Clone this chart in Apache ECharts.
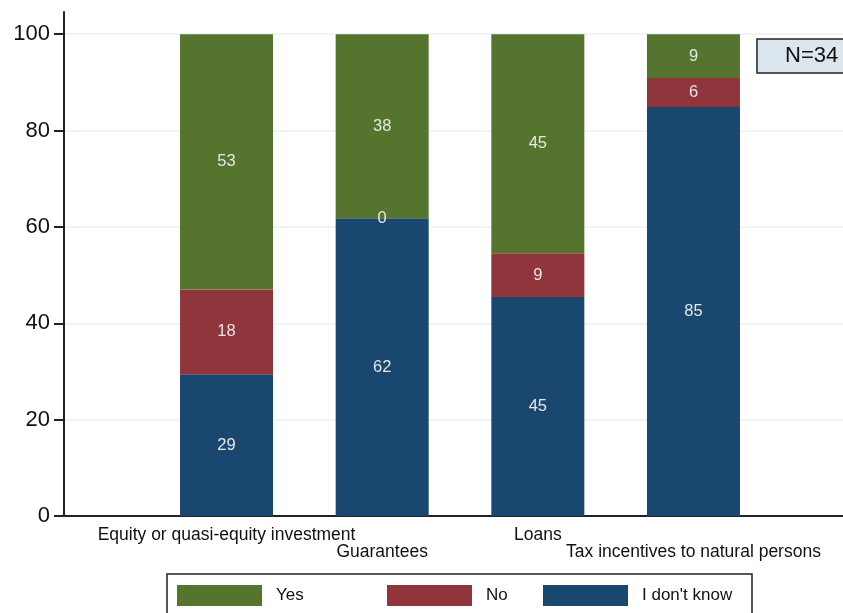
<!DOCTYPE html>
<html>
<head>
<meta charset="utf-8">
<script src="https://cdn.jsdelivr.net/npm/echarts@6/dist/echarts.min.js"></script>
<style>
  html, body { margin: 0; padding: 0; background: #fff; }
  #chart { width: 843px; height: 613px; }
</style>
</head>
<body>
<div id="chart"></div>
<script>
// categories and shares (%)
const categories = ['Equity or quasi-equity investment', 'Guarantees', 'Loans', 'Tax incentives to natural persons']
const dontKnow = [29.4, 61.8, 45.45, 84.9]
const no = [17.6, 0, 9.1, 6.0]
const yes = [53.0, 38.2, 45.45, 9.1]
const yTicks = [0, 20, 40, 60, 80, 100]
const yMax = 104.6

const chart = echarts.init(document.getElementById('chart'))

const font = 'Liberation Sans'

const labelStyle = {
  show: true,
  position: 'inside',
  color: '#e6e6e6',
  fontSize: 16.5,
  fontFamily: font,
  formatter: p => Math.round(p.value)
}

function makeSeries(name, values, color) {
  return {
    name: name,
    type: 'bar',
    stack: 'total',
    xAxisIndex: 1,
    yAxisIndex: 1,
    barWidth: 93,
    data: values,
    itemStyle: { color: color },
    label: labelStyle
  }
}

const legendCommon = {
  orient: 'horizontal',
  itemWidth: 85,
  itemHeight: 21,
  padding: 0,
  top: 585,
  icon: 'rect',
  textStyle: { fontSize: 17, color: '#111', fontFamily: font, padding: [0, 0, 0, 9] },
  selectedMode: false
}

const option = {
  animation: false,
  title: {
    text: 'N=34',
    left: 757,
    top: 39,
    padding: [6, 28, 6, 28],
    backgroundColor: '#dce6ee',
    borderColor: '#222',
    borderWidth: 1.5,
    textStyle: { fontSize: 22, fontWeight: 'normal', color: '#111', fontFamily: font, lineHeight: 22 }
  },
  legend: [
    Object.assign({}, legendCommon, { left: 177, data: ['Yes'] }),
    Object.assign({}, legendCommon, { left: 387, data: ['No'] }),
    Object.assign({}, legendCommon, { left: 543, data: ["I don't know"] })
  ],
  graphic: [{
    type: 'rect',
    shape: { x: 167, y: 574, width: 585, height: 60 },
    style: { fill: 'none', stroke: '#222', lineWidth: 1.5 },
    silent: true
  }],
  grid: [
    // full plot region: axis lines, y ticks and gridlines
    { left: 64, right: 0, top: 12, bottom: 97 },
    // bar region: bars centred where the reference puts them
    { left: 148.7, right: 71.7, top: 12, bottom: 97 }
  ],
  xAxis: [
    {
      gridIndex: 0,
      type: 'value',
      min: 0,
      max: 1,
      axisLine: { show: true, onZero: false, lineStyle: { color: '#222', width: 2 } },
      axisTick: { show: false },
      axisLabel: { show: false },
      splitLine: { show: false }
    },
    {
      gridIndex: 1,
      type: 'category',
      data: categories,
      axisLine: { show: false },
      axisTick: { show: false },
      axisLabel: {
        interval: 0,
        margin: 11,
        fontSize: 17.5,
        lineHeight: 17,
        color: '#111',
        fontFamily: font,
        formatter: (v, i) => (i % 2 === 1 ? '\n' + v : v)
      }
    }
  ],
  yAxis: [
    {
      gridIndex: 0,
      type: 'value',
      min: 0,
      max: yMax,
      axisLine: { show: true, onZero: false, lineStyle: { color: '#222', width: 2 } },
      axisTick: { show: true, length: 10, customValues: yTicks, lineStyle: { color: '#222', width: 2 } },
      axisLabel: {
        customValues: yTicks,
        margin: 14,
        fontSize: 22,
        color: '#111',
        fontFamily: font
      },
      splitLine: { show: true, lineStyle: { color: '#eaf1f3', width: 1.5 } }
    },
    {
      gridIndex: 1,
      type: 'value',
      min: 0,
      max: yMax,
      show: false,
      splitLine: { show: false }
    }
  ],
  series: [
    makeSeries("I don't know", dontKnow, '#1a476f'),
    makeSeries('No', no, '#90353b'),
    makeSeries('Yes', yes, '#55752f')
  ]
}

chart.setOption(option)
</script>
</body>
</html>
